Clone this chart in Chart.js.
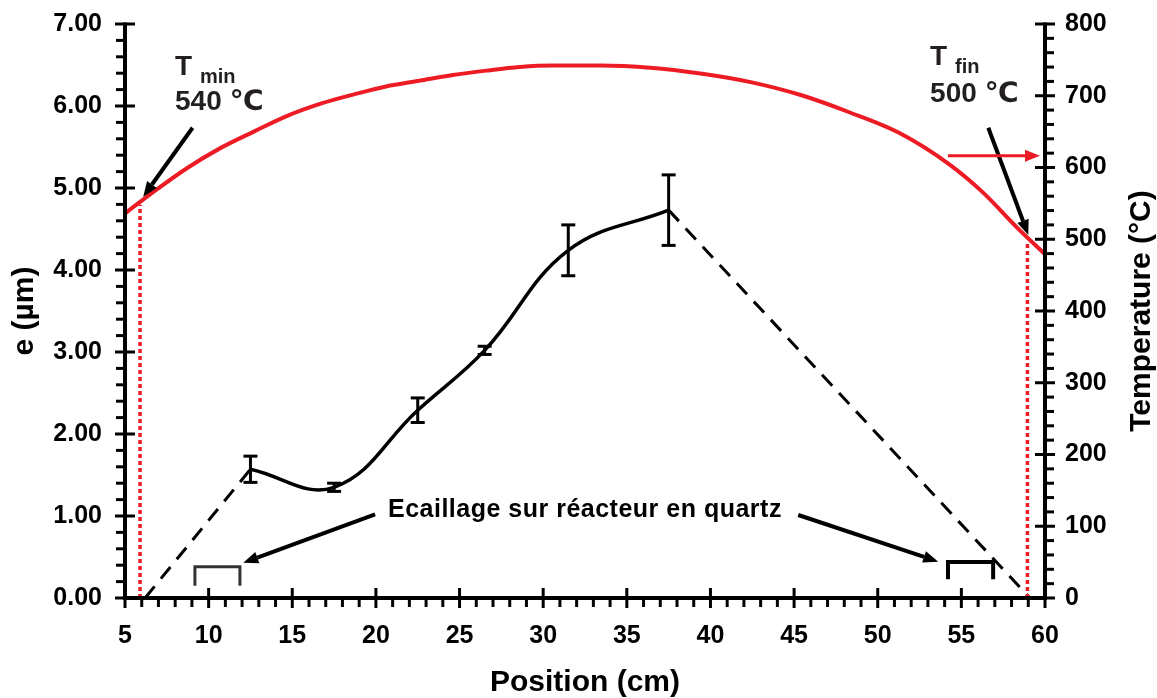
<!DOCTYPE html>
<html><head><meta charset="utf-8">
<script src="https://cdn.jsdelivr.net/npm/chart.js@4.4.1/dist/chart.umd.min.js"></script>
<style>html,body{margin:0;padding:0;background:#fff}canvas{display:block}</style>
</head><body>
<canvas id="c" width="1157" height="698"></canvas>
<script>
// ---- data ----
const thickPos = [12.5, 17.5, 22.5, 26.5, 31.5, 37.5];
const thickVal = [1.57, 1.35, 2.29, 3.02, 4.24, 4.73];
const thickErr = [0.16, 0.05, 0.15, 0.05, 0.31, 0.43];
const dashLeftPos = [6.2, 12.5];
const dashLeftVal = [0, 1.57];
const dashRightPos = [37.5, 59.1];
const dashRightVal = [4.73, 0];
const tempPos = [5, 6.7, 8.7, 10.7, 12.7, 14.7, 16.7, 18.7, 20.6, 22.6, 24.6, 26.6, 28.6, 30.6, 33.4, 36.4, 39.4, 42.4, 45.4, 48.3, 51.3, 54.3, 56.3, 58.3, 60];
const tempVal = [536, 566, 599, 627, 650, 672, 689, 702, 713, 721, 729, 735, 740, 742, 742, 739, 731, 719, 701, 677, 648, 604, 565, 517, 479];
const tMinPos = [5.9, 5.9];
const tMinVal = [0, 548];
const tFinPos = [58.95, 58.95];
const tFinVal = [0, 495];
const flakeLeftPos = [9.18, 9.18, 11.87, 11.87];
const flakeLeftVal = [0.15, 0.38, 0.38, 0.15];
const flakeRightPos = [54.2, 54.2, 56.9, 56.9];
const flakeRightVal = [0.23, 0.44, 0.44, 0.23];
const xRange = [5, 60];
const yRange = [0, 7];
const tRange = [0, 800];

const F = '"Liberation Sans", Arial, "DejaVu Sans", sans-serif';
const RED = '#ED1C24';
const TXT = '#231F20';
const pts = (xs, ys) => xs.map((v, i) => ({x: v, y: ys[i]}));

// annotations (data coordinates on x / left y axis)
const texts = [
  {t: 'T', x: 7.99, y: 6.378, size: 28},
  {t: 'min', x: 9.48, y: 6.277, size: 20},
  {t: '540 \u2103', x: 7.99, y: 5.951, size: 28},
  {t: 'T', x: 53.13, y: 6.50, size: 28},
  {t: 'fin', x: 54.62, y: 6.399, size: 20},
  {t: '500 \u2103', x: 53.13, y: 6.052, size: 28},
  {t: 'Ecaillage sur r\u00e9acteur en quartz', x: 20.72, y: 0.991, size: 25, ls: '0.5px', color: '#000'}
];
const arrows = [
  {x1: 9.04, y1: 5.735, x2: 6.09, y2: 4.894, color: '#000', w: 4},
  {x1: 56.61, y1: 5.735, x2: 59.0, y2: 4.427, color: '#000', w: 4},
  {x1: 19.95, y1: 1.021, x2: 12.07, y2: 0.430, color: '#000', w: 4},
  {x1: 45.25, y1: 1.012, x2: 53.62, y2: 0.443, color: '#000', w: 4},
  {x1: 54.2, y1: 5.394, x2: 59.7, y2: 5.394, color: RED, w: 3}
];

function seg(ctx, x1, y1, x2, y2) { ctx.beginPath(); ctx.moveTo(x1, y1); ctx.lineTo(x2, y2); ctx.stroke(); }

const decor = {
  id: 'decor',
  afterDatasetsDraw(chart) {
    const {ctx, chartArea: a, scales: {x, y, y2}} = chart;
    ctx.save();
    ctx.strokeStyle = '#000';
    ctx.fillStyle = '#000';
    // error bars
    ctx.lineWidth = 3;
    thickPos.forEach((p, i) => {
      const px = x.getPixelForValue(p);
      const t = y.getPixelForValue(thickVal[i] + thickErr[i]);
      const b = y.getPixelForValue(thickVal[i] - thickErr[i]);
      seg(ctx, px, t, px, b);
      seg(ctx, px - 7, t, px + 7, t);
      seg(ctx, px - 7, b, px + 7, b);
    });
    // axes
    ctx.lineWidth = 4;
    seg(ctx, a.left, a.top - 1.5, a.left, a.bottom + 2);
    seg(ctx, a.right, a.top - 1.5, a.right, a.bottom + 2);
    seg(ctx, a.left - 2, a.bottom, a.right + 2, a.bottom);
    ctx.lineWidth = 3;
    for (let v = xRange[0]; v <= xRange[1] + 1e-6; v += 1) {
      const px = x.getPixelForValue(v);
      if (Math.round(v) % 5 === 0) seg(ctx, px, a.bottom - 10, px, a.bottom + 10);
      else seg(ctx, px, a.bottom, px, a.bottom + 9);
    }
    for (let k = 0; k <= 35; k++) {
      const v = k * 0.2, py = y.getPixelForValue(v);
      if (k % 5 === 0) seg(ctx, a.left - 10, py, a.left + 10, py);
      else seg(ctx, a.left - 9, py, a.left, py);
    }
    for (let v = tRange[0]; v <= tRange[1]; v += 20) {
      const py = y2.getPixelForValue(v);
      if (v % 100 === 0) seg(ctx, a.right - 10, py, a.right + 10, py);
      else seg(ctx, a.right, py, a.right + 9, py);
    }
    // arrows
    arrows.forEach(ar => {
      const x1 = x.getPixelForValue(ar.x1), y1 = y.getPixelForValue(ar.y1);
      const x2 = x.getPixelForValue(ar.x2), y2p = y.getPixelForValue(ar.y2);
      const ang = Math.atan2(y2p - y1, x2 - x1);
      const hl = 15, hw = 6;
      const bx = x2 - hl * Math.cos(ang), by = y2p - hl * Math.sin(ang);
      ctx.strokeStyle = ar.color; ctx.fillStyle = ar.color; ctx.lineWidth = ar.w;
      seg(ctx, x1, y1, bx, by);
      ctx.beginPath();
      ctx.moveTo(x2, y2p);
      ctx.lineTo(bx + hw * Math.sin(ang), by - hw * Math.cos(ang));
      ctx.lineTo(bx - hw * Math.sin(ang), by + hw * Math.cos(ang));
      ctx.closePath(); ctx.fill();
    });
    // texts
    ctx.textBaseline = 'alphabetic';
    ctx.textAlign = 'left';
    texts.forEach(t => {
      ctx.font = 'bold ' + t.size + 'px ' + F;
      ctx.fillStyle = t.color || TXT;
      ctx.letterSpacing = t.ls || '0px';
      ctx.fillText(t.t, x.getPixelForValue(t.x), y.getPixelForValue(t.y));
    });
    ctx.letterSpacing = '0px';
    // right axis title
    ctx.save();
    ctx.translate(a.right + 105, (a.top + a.bottom) / 2);
    ctx.rotate(-Math.PI / 2);
    ctx.textAlign = 'center';
    ctx.font = 'bold 30px ' + F;
    ctx.fillStyle = '#000';
    ctx.fillText('Temperature (\u00b0C)', 0, 0);
    ctx.restore();
    ctx.restore();
  }
};

const tickFont = {family: F, size: 25, weight: 'bold'};
const titleFont = {family: F, size: 30, weight: 'bold', lineHeight: 1};

new Chart(document.getElementById('c'), {
  type: 'line',
  data: {
    datasets: [
      {data: pts(tempPos, tempVal), yAxisID: 'y2', borderColor: RED, borderWidth: 4, cubicInterpolationMode: 'monotone', pointRadius: 0},
      {data: pts(tMinPos, tMinVal), yAxisID: 'y2', borderColor: RED, borderWidth: 3.5, borderDash: [4, 3], pointRadius: 0},
      {data: pts(tFinPos, tFinVal), yAxisID: 'y2', borderColor: RED, borderWidth: 3.5, borderDash: [4, 3], pointRadius: 0},
      {data: pts(thickPos, thickVal), yAxisID: 'y', borderColor: '#000', borderWidth: 3.5, tension: 0.4, pointRadius: 0},
      {data: pts(dashLeftPos, dashLeftVal), yAxisID: 'y', borderColor: '#000', borderWidth: 3, borderDash: [15, 10], pointRadius: 0},
      {data: pts(dashRightPos, dashRightVal), yAxisID: 'y', borderColor: '#000', borderWidth: 3, borderDash: [15, 10], pointRadius: 0},
      {data: pts(flakeLeftPos, flakeLeftVal), yAxisID: 'y', borderColor: '#333', borderWidth: 3, pointRadius: 0},
      {data: pts(flakeRightPos, flakeRightVal), yAxisID: 'y', borderColor: '#000', borderWidth: 4, pointRadius: 0}
    ]
  },
  options: {
    responsive: false,
    devicePixelRatio: 1,
    animation: false,
    layout: {padding: {top: 24, left: 0, right: 0, bottom: 0}},
    plugins: {legend: {display: false}, tooltip: {enabled: false}},
    elements: {line: {borderCapStyle: 'butt'}},
    scales: {
      x: {
        type: 'linear', min: xRange[0], max: xRange[1],
        grid: {display: false, drawTicks: false}, border: {display: false},
        ticks: {stepSize: 5, font: tickFont, color: '#000', padding: 23},
        title: {display: true, text: 'Position (cm)', font: titleFont, color: '#000', padding: {top: 0, bottom: 0}},
        afterFit(s) { s.height = 100; s.paddingLeft = 0; s.paddingRight = 0; }
      },
      y: {
        type: 'linear', position: 'left', min: yRange[0], max: yRange[1],
        grid: {display: false, drawTicks: false}, border: {display: false},
        ticks: {stepSize: 1, font: tickFont, color: '#000', padding: 23, callback: v => Number(v).toFixed(2)},
        title: {display: true, text: 'e (\u00b5m)', font: titleFont, color: '#000', padding: {top: 10, bottom: 0}},
        afterFit(s) { s.width = 125; s.paddingTop = 0; s.paddingBottom = 0; }
      },
      y2: {
        type: 'linear', position: 'right', min: tRange[0], max: tRange[1],
        grid: {display: false, drawTicks: false}, border: {display: false},
        ticks: {stepSize: 100, font: tickFont, color: '#000', padding: 20},
        afterFit(s) { s.width = 112; s.paddingTop = 0; s.paddingBottom = 0; }
      }
    }
  },
  plugins: [decor]
});
</script>
</body></html>
